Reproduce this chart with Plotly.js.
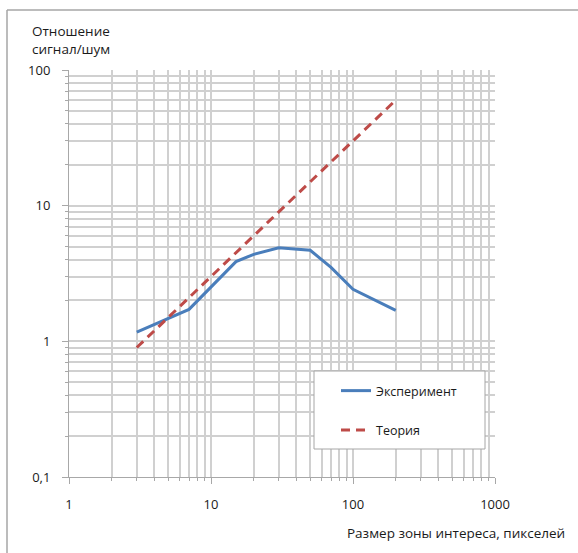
<!DOCTYPE html>
<html>
<head>
<meta charset="utf-8">
<script src="https://cdn.plot.ly/plotly-3.0.1.min.js"></script>
<style>html,body{margin:0;padding:0;background:#fff;} #chart{width:578px;height:553px;}</style>
</head>
<body>
<div id="chart"></div>
<script>
// Data
const sizes = [3, 7, 15, 20, 30, 50, 70, 100, 200];
const experiment = [1.17, 1.72, 3.87, 4.38, 4.9, 4.69, 3.51, 2.42, 1.69];
const theorySizes = [3, 7, 15, 20, 30, 50, 70, 100, 200];
const theory = [0.9, 2.1, 4.5, 6, 9, 15, 21, 30, 60];

const seriesNames = ['Эксперимент', 'Теория'];
const xTickVals = [1, 10, 100, 1000];
const xTickText = ['1', '10', '100', '1000'];
const yTickVals = [0.1, 1, 10, 100];
const yTickText = ['0,1', '1', '10', '100'];
const xMinor = [2,3,4,5,6,7,8,9,20,30,40,50,60,70,80,90,200,300,400,500,600,700,800,900];
const yMinor = [0.2,0.3,0.4,0.5,0.6,0.7,0.8,0.9,2,3,4,5,6,7,8,9,20,30,40,50,60,70,80,90];

const xTitle = 'Размер зоны интереса, пикселей';
const yTitle = 'Отношение<br>сигнал/шум';

const FONT = 'Open Sans, Noto Sans, sans-serif';
const GRID = '#d0d0d0';
const AXIS = '#a8a8a8';

const W = 578, H = 553;
const L = 69, R = 83, T = 70, B = 76;
const pw = W - L - R, ph = H - T - B;
const px = v => (v - L) / pw;
const py = v => (H - B - v) / ph;

const traces = [
  {x: sizes, y: experiment, name: seriesNames[0], mode: 'lines', type: 'scatter',
   line: {color: '#4A7EBB', width: 3}, legendgroup: 'a'},
  {x: theorySizes, y: theory, name: seriesNames[1], mode: 'lines', type: 'scatter',
   line: {color: '#BE4B48', width: 3, dash: '9px,6px'}, legendgroup: 'b'}
];

const axisCommon = {
  type: 'log',
  tickmode: 'array',
  ticks: 'outside',
  ticklen: 6,
  tickcolor: AXIS,
  tickwidth: 1,
  showgrid: true,
  gridcolor: GRID,
  gridwidth: 2,
  showline: true,
  linecolor: AXIS,
  linewidth: 1,
  mirror: false,
  zeroline: false,
  tickfont: {family: FONT, size: 13, color: '#1a1a1a'}
};

const layout = {
  width: W, height: H,
  margin: {l: L, r: R, t: T, b: B},
  paper_bgcolor: '#fff',
  plot_bgcolor: '#fff',
  showlegend: true,
  xaxis: Object.assign({}, axisCommon, {
    range: [0, 3],
    tickvals: xTickVals, ticktext: xTickText,
    ticklabelstandoff: 9,
    minor: {tickvals: xMinor, ticks: 'outside', ticklen: 3, tickcolor: AXIS, showgrid: true, gridcolor: GRID, gridwidth: 2}
  }),
  yaxis: Object.assign({}, axisCommon, {
    range: [-1, 2],
    tickvals: yTickVals, ticktext: yTickText,
    ticklabelstandoff: 9,
    minor: {tickvals: yMinor, ticks: 'outside', ticklen: 3, tickcolor: AXIS, showgrid: true, gridcolor: GRID, gridwidth: 2}
  }),
  legend: {
    x: px(336), y: py(376), xanchor: 'left', yanchor: 'top',
    bgcolor: 'rgba(0,0,0,0)', borderwidth: 0,
    traceorder: 'grouped', tracegroupgap: 20,
    font: {family: FONT, size: 12.5, color: '#1a1a1a'}
  },
  annotations: [
    {text: yTitle, xref: 'paper', yref: 'paper', x: px(30), y: py(20), xanchor: 'left', yanchor: 'top',
     align: 'left', showarrow: false, font: {family: FONT, size: 13.5, color: '#1a1a1a'}},
    {text: xTitle, xref: 'paper', yref: 'paper', x: px(567), y: py(533), xanchor: 'right', yanchor: 'middle',
     showarrow: false, font: {family: FONT, size: 13.5, color: '#1a1a1a'}}
  ],
  shapes: [
    {type: 'rect', xref: 'paper', yref: 'paper', x0: px(314), x1: px(485), y0: py(449), y1: py(371),
     line: {color: '#a6a6a6', width: 1}, fillcolor: '#fff', layer: 'above'},
    {type: 'line', xref: 'paper', yref: 'paper', x0: px(7), x1: px(7), y0: py(10), y1: py(560),
     line: {color: '#a6a6a6', width: 1.5}},
    {type: 'line', xref: 'paper', yref: 'paper', x0: px(7), x1: px(590), y0: py(10), y1: py(10),
     line: {color: '#a6a6a6', width: 1.5}}
  ]
};

Plotly.newPlot('chart', traces, layout, {displayModeBar: false, staticPlot: true});
</script>
</body>
</html>
